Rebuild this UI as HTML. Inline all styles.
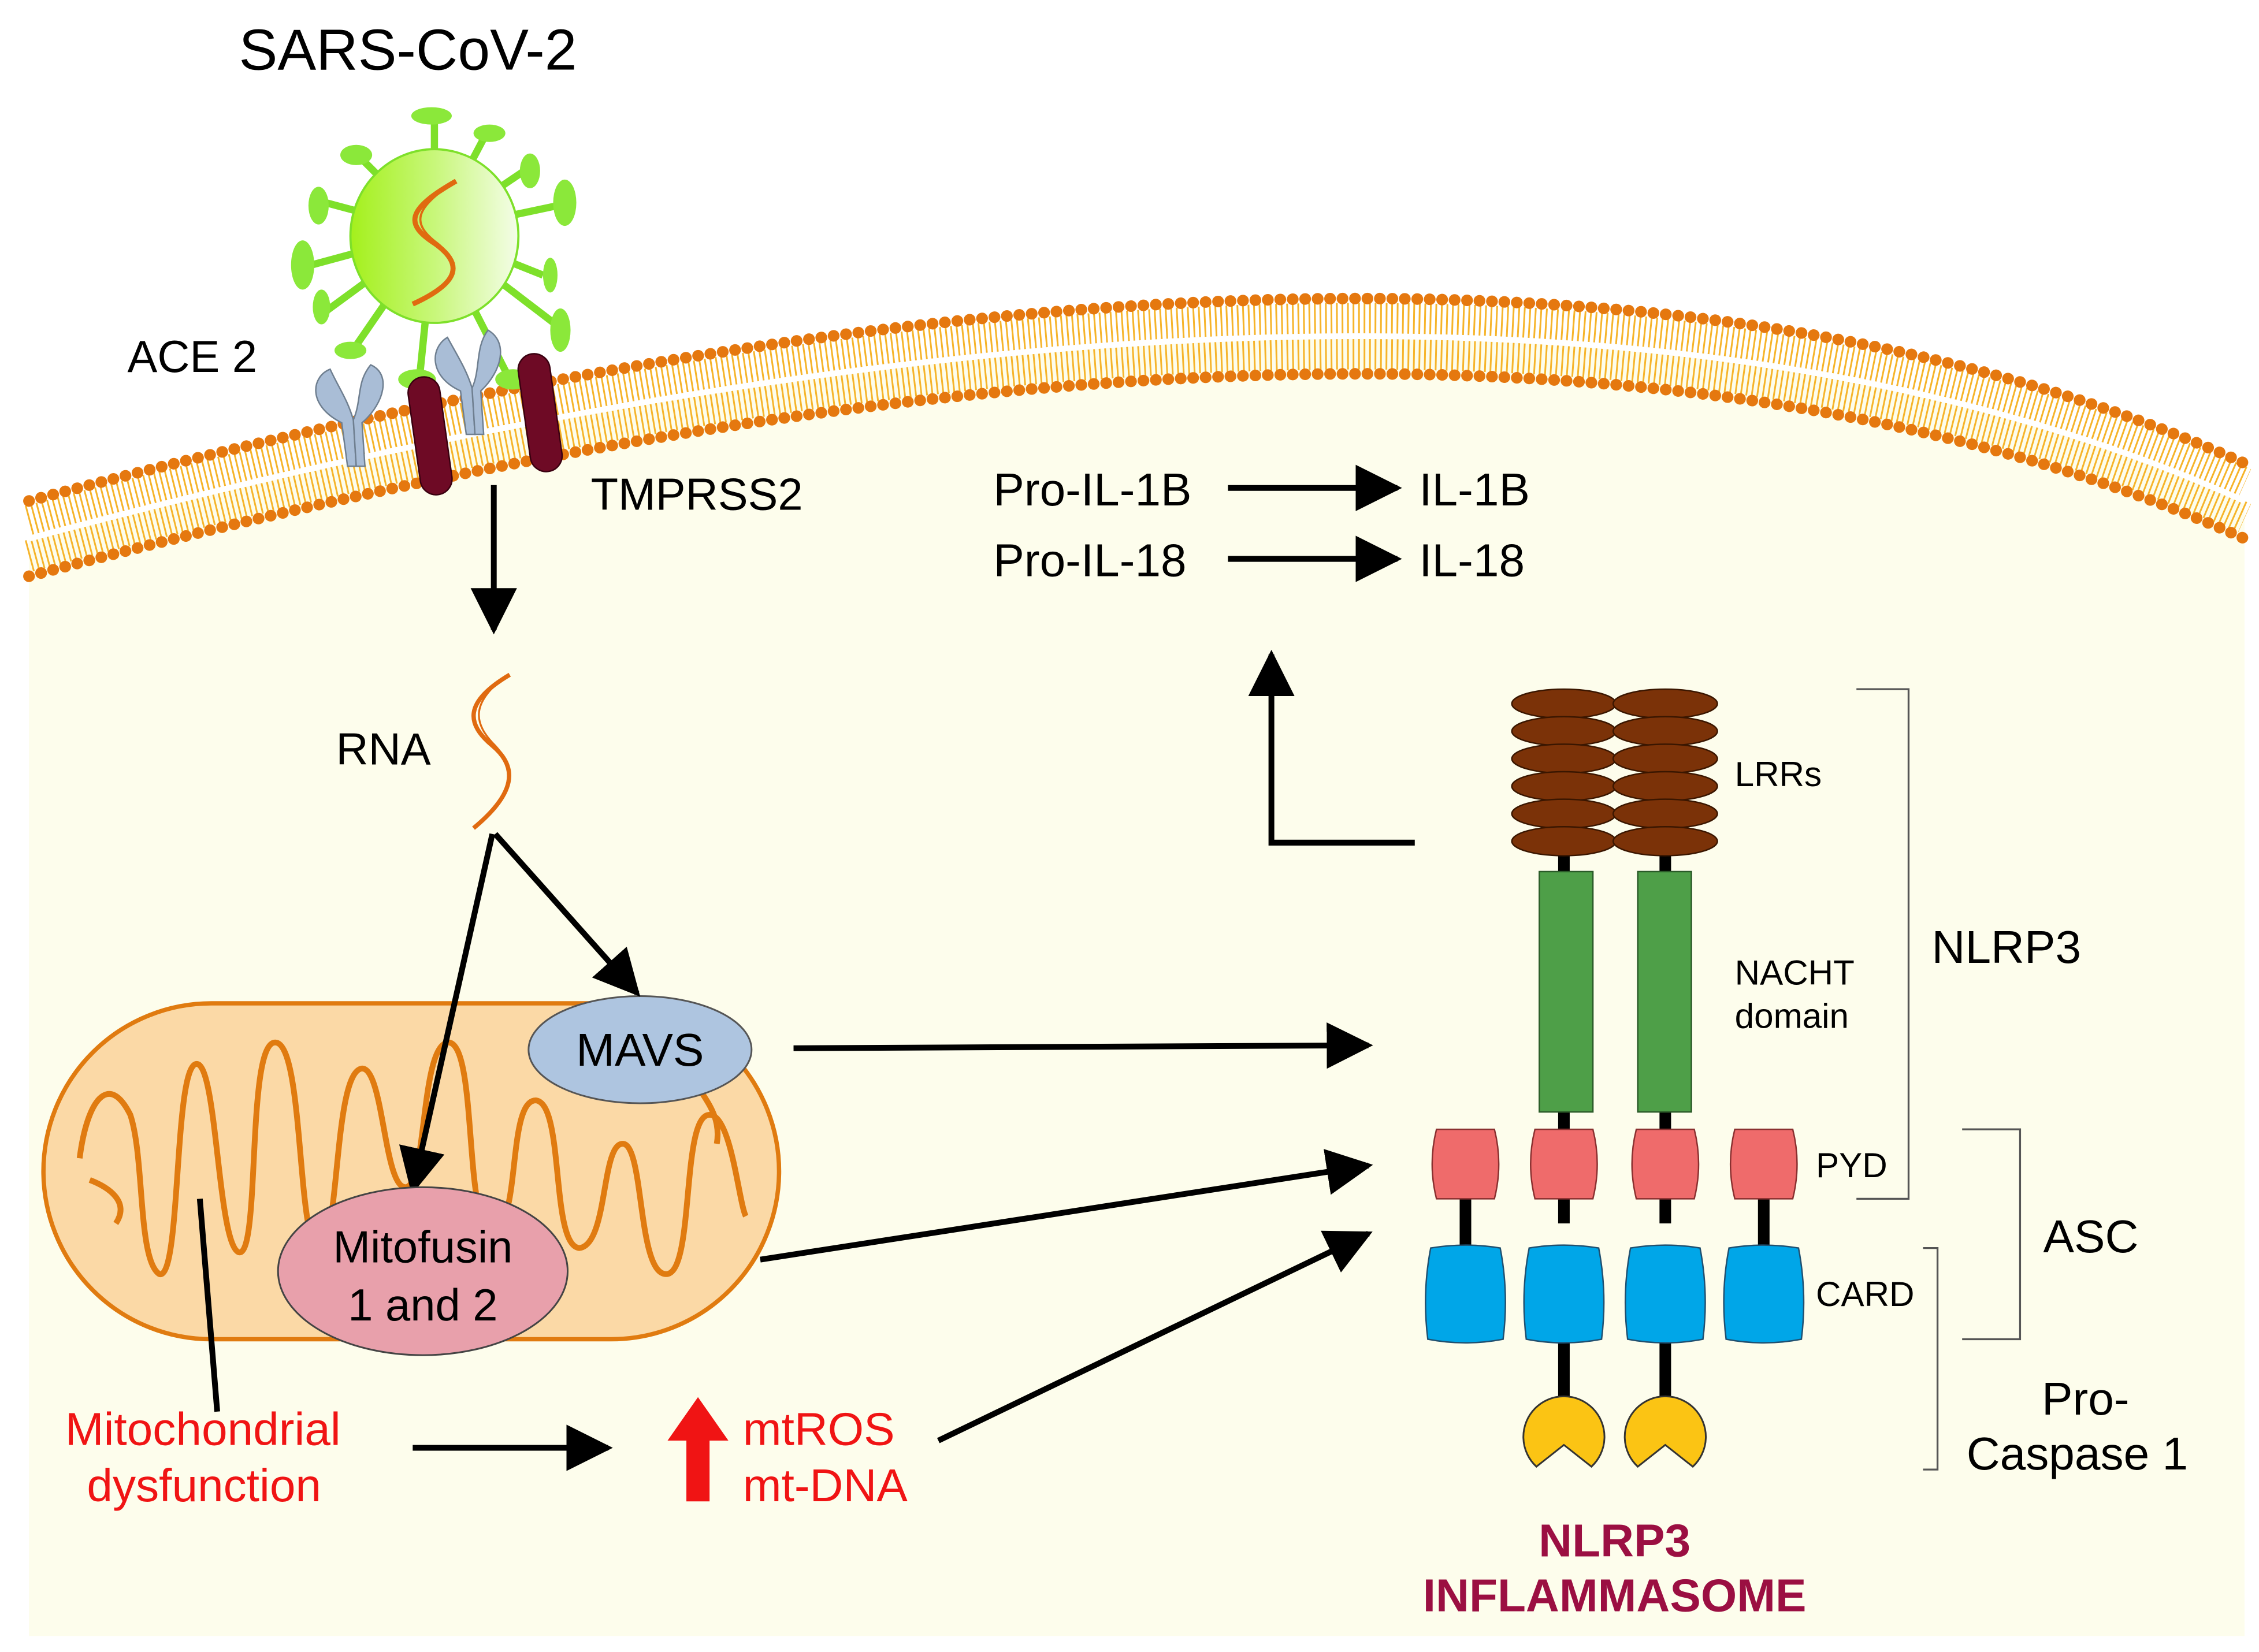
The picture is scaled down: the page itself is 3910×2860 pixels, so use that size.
<!DOCTYPE html>
<html><head><meta charset="utf-8"><style>html,body{margin:0;padding:0;background:#fff}svg{display:block}text{font-family:"Liberation Sans",sans-serif}</style></head>
<body>
<svg width="3910" height="2860" viewBox="0 0 1560 1141" xmlns="http://www.w3.org/2000/svg">
<defs>
<linearGradient id="vg" x1="0" x2="1"><stop offset="0" stop-color="#a4f01c"/><stop offset="0.5" stop-color="#c8f77a"/><stop offset="1" stop-color="#f4fde8"/></linearGradient>
<marker id="ah" viewBox="0 0 10 10" refX="9" refY="5" markerUnits="userSpaceOnUse" markerWidth="32" markerHeight="32" orient="auto"><path d="M0,0 L10,5 L0,10 Z" fill="#000"/></marker>
</defs>
<rect width="1560" height="1141" fill="#fff"/>
<path d="M20,372 Q1015,106 1550,346 L1550,1130 L20,1130 Z" fill="#fdfdec"/>
<g fill="none">
<path d="M20,360 Q1015,94 1550,334" stroke="#f6b42a" stroke-width="22" stroke-dasharray="1.2 2.6"/>
<path d="M20,384 Q1015,118 1550,358" stroke="#f6b42a" stroke-width="22" stroke-dasharray="1.2 2.6"/>
<path d="M20,372 Q1015,106 1550,346" stroke="#fff" stroke-width="4"/>
<path d="M20,346 Q1015,80 1550,320" stroke="#e5780f" stroke-width="8" stroke-dasharray="0.1 8.5" stroke-linecap="round"/>
<path d="M20,398 Q1015,132 1550,372" stroke="#e5780f" stroke-width="8" stroke-dasharray="0.1 8.5" stroke-linecap="round"/>
</g>
<g stroke="#7ee02a" stroke-width="5" fill="#8be83a">
<line x1="300" y1="160" x2="300" y2="82"/><ellipse cx="298" cy="80" rx="14" ry="6" stroke="none"/>
<line x1="300" y1="160" x2="337" y2="90"/><ellipse cx="338" cy="92" rx="11" ry="6" stroke="none"/>
<line x1="300" y1="160" x2="362" y2="118"/><ellipse cx="366" cy="118" rx="7" ry="12" stroke="none"/>
<line x1="300" y1="160" x2="385" y2="142"/><ellipse cx="390" cy="140" rx="8" ry="16" stroke="none"/>
<line x1="300" y1="160" x2="375" y2="190"/><ellipse cx="380" cy="190" rx="5" ry="12" stroke="none"/>
<line x1="300" y1="160" x2="385" y2="225"/><ellipse cx="387" cy="228" rx="7" ry="15" stroke="none"/>
<line x1="300" y1="160" x2="350" y2="258"/><ellipse cx="354" cy="262" rx="12" ry="7" stroke="none"/>
<line x1="300" y1="160" x2="290" y2="258"/><ellipse cx="288" cy="262" rx="13" ry="7" stroke="none"/>
<line x1="300" y1="160" x2="245" y2="240"/><ellipse cx="242" cy="242" rx="11" ry="6" stroke="none"/>
<line x1="300" y1="160" x2="225" y2="215"/><ellipse cx="222" cy="212" rx="6" ry="12" stroke="none"/>
<line x1="300" y1="160" x2="215" y2="183"/><ellipse cx="209" cy="183" rx="8" ry="17" stroke="none"/>
<line x1="300" y1="160" x2="225" y2="140"/><ellipse cx="220" cy="142" rx="7" ry="13" stroke="none"/>
<line x1="300" y1="160" x2="250" y2="110"/><ellipse cx="246" cy="107" rx="11" ry="7" stroke="none"/>
</g>
<ellipse cx="300" cy="163" rx="58" ry="60" fill="url(#vg)" stroke="#7ee02a" stroke-width="1.5"/>
<g fill="none" stroke="#e06a10" stroke-width="3.5">
<path d="M315,125 C280,145 280,155 300,168 C320,182 318,195 285,210"/>
<path d="M312,127 C285,145 285,155 302,168 C322,184 312,198 289,208" stroke-width="1.5"/>
</g>
<g fill="#a9bdd6" stroke="#6f7f90" stroke-width="1">
<path d="M228,255 C215,260 212,280 236,292 L240,322 L246,322 L244,290 C240,276 234,268 228,255Z"/>
<path d="M256,252 C270,258 266,278 250,292 L252,322 L246,322 L244,290 C250,276 246,264 256,252Z"/>
<path d="M309,233 C297,240 296,260 318,270 L322,300 L328,300 L326,268 C322,255 316,246 309,233Z"/>
<path d="M337,228 C351,236 347,256 332,270 L334,300 L328,300 L326,268 C332,255 328,240 337,228Z"/>
</g>
<g fill="#6e0a25" stroke="#3a0010" stroke-width="1">
<rect x="286" y="260" width="22" height="82" rx="11" transform="rotate(-8 297 301)"/>
<rect x="362" y="244" width="22" height="82" rx="11" transform="rotate(-8 373 285)"/>
</g>
<text x="165" y="48" font-size="40">SARS-CoV-2</text>
<text x="88" y="257" font-size="31">ACE 2</text>
<text x="408" y="352" font-size="31">TMPRSS2</text>
<line x1="341" y1="335" x2="341" y2="435" stroke="#000" stroke-width="4" marker-end="url(#ah)"/>
<text x="232" y="528" font-size="31">RNA</text>
<g fill="none" stroke="#e06a10" stroke-width="3">
<path d="M352,466 C320,485 322,500 340,515 C358,530 356,548 327,572"/>
<path d="M348,468 C325,486 327,500 342,515 C358,532 352,550 330,570" stroke-width="1.3"/>
</g>
<text x="686" y="349" font-size="32">Pro-IL-1B</text>
<text x="686" y="398" font-size="32">Pro-IL-18</text>
<text x="980" y="349" font-size="32">IL-1B</text>
<text x="980" y="398" font-size="32">IL-18</text>
<line x1="848" y1="337" x2="965" y2="337" stroke="#000" stroke-width="4" marker-end="url(#ah)"/>
<line x1="848" y1="386" x2="965" y2="386" stroke="#000" stroke-width="4" marker-end="url(#ah)"/>
<polyline points="977,582 878,582 878,452" fill="none" stroke="#000" stroke-width="4" marker-end="url(#ah)"/>
<rect x="30" y="693" width="508" height="232" rx="116" fill="#fbd9a6" stroke="#e07b10" stroke-width="3"/>
<path d="M55,800 C60,760 75,740 90,770 C100,800 95,870 110,880 C125,885 120,740 135,735 C150,730 150,860 165,865 C180,868 170,720 190,720 C210,720 205,860 220,862 C235,862 230,740 250,738 C265,738 265,820 280,820 C295,820 290,720 310,720 C330,722 320,850 340,850 C360,848 350,760 370,760 C390,762 380,860 400,862 C420,860 415,790 430,790 C445,790 440,880 460,880 C480,880 470,770 490,770 C505,770 510,830 515,840" fill="none" stroke="#e07b10" stroke-width="4"/>
<path d="M62,815 C75,820 90,830 80,845 M480,730 C470,750 500,760 495,790" fill="none" stroke="#e07b10" stroke-width="4"/>
<ellipse cx="442" cy="725" rx="77" ry="37" fill="#aec5e0" stroke="#555" stroke-width="1.2"/>
<text x="442" y="736" font-size="32" text-anchor="middle">MAVS</text>
<line x1="342" y1="576" x2="440" y2="686" stroke="#000" stroke-width="4" marker-end="url(#ah)"/>
<line x1="340" y1="576" x2="285" y2="822" stroke="#000" stroke-width="4" marker-end="url(#ah)"/>
<ellipse cx="292" cy="878" rx="100" ry="58" fill="#e8a0ab" stroke="#444" stroke-width="1.2"/>
<text x="292" y="872" font-size="31" text-anchor="middle">Mitofusin</text>
<text x="292" y="912" font-size="31" text-anchor="middle">1 and 2</text>
<line x1="138" y1="828" x2="150" y2="975" stroke="#000" stroke-width="4"/>
<text x="45" y="998" font-size="32" fill="#f01414">Mitochondrial</text>
<text x="60" y="1037" font-size="32" fill="#f01414">dysfunction</text>
<line x1="285" y1="1000" x2="420" y2="1000" stroke="#000" stroke-width="4" marker-end="url(#ah)"/>
<path d="M474,1037 L490,1037 L490,995 L503,995 L482,965 L461,995 L474,995 Z" fill="#f01414"/>
<text x="513" y="998" font-size="32" fill="#f01414">mtROS</text>
<text x="513" y="1037" font-size="32" fill="#f01414">mt-DNA</text>
<line x1="548" y1="724" x2="945" y2="722" stroke="#000" stroke-width="4" marker-end="url(#ah)"/>
<line x1="525" y1="870" x2="945" y2="805" stroke="#000" stroke-width="4" marker-end="url(#ah)"/>
<line x1="648" y1="995" x2="945" y2="852" stroke="#000" stroke-width="4" marker-end="url(#ah)"/>
<g stroke="#000" stroke-width="8">
<line x1="1080" y1="580" x2="1080" y2="845"/><line x1="1150" y1="580" x2="1150" y2="845"/>
<line x1="1012" y1="820" x2="1012" y2="870"/><line x1="1218" y1="820" x2="1218" y2="870"/>
<line x1="1080" y1="915" x2="1080" y2="975"/><line x1="1150" y1="915" x2="1150" y2="975"/>
</g>
<g fill="#7b3208" stroke="#3a1600" stroke-width="1">
<ellipse cx="1080" cy="486" rx="36" ry="10"/><ellipse cx="1150" cy="486" rx="36" ry="10"/>
<ellipse cx="1080" cy="505" rx="36" ry="10"/><ellipse cx="1150" cy="505" rx="36" ry="10"/>
<ellipse cx="1080" cy="524" rx="36" ry="10"/><ellipse cx="1150" cy="524" rx="36" ry="10"/>
<ellipse cx="1080" cy="543" rx="36" ry="10"/><ellipse cx="1150" cy="543" rx="36" ry="10"/>
<ellipse cx="1080" cy="562" rx="36" ry="10"/><ellipse cx="1150" cy="562" rx="36" ry="10"/>
<ellipse cx="1080" cy="581" rx="36" ry="10"/><ellipse cx="1150" cy="581" rx="36" ry="10"/>
</g>
<g fill="#4e9f48" stroke="#2a5a28" stroke-width="1">
<rect x="1063" y="602" width="37" height="166"/><rect x="1131" y="602" width="37" height="166"/>
</g>
<g fill="#ef6b6b" stroke="#8a3030" stroke-width="1">
<path d="M992,780 H1032 Q1038,804 1032,828 H992 Q986,804 992,780Z"/>
<path d="M1060,780 H1100 Q1106,804 1100,828 H1060 Q1054,804 1060,780Z"/>
<path d="M1130,780 H1170 Q1176,804 1170,828 H1130 Q1124,804 1130,780Z"/>
<path d="M1198,780 H1238 Q1244,804 1238,828 H1198 Q1192,804 1198,780Z"/>
</g>
<g fill="#00a6e8" stroke="#205070" stroke-width="1">
<path d="M988,862 Q1012,858 1036,862 Q1042,893 1038,925 Q1012,930 986,925 Q982,893 988,862Z"/>
<path d="M1056,862 Q1080,858 1104,862 Q1110,893 1106,925 Q1080,930 1054,925 Q1050,893 1056,862Z"/>
<path d="M1126,862 Q1150,858 1174,862 Q1180,893 1176,925 Q1150,930 1124,925 Q1120,893 1126,862Z"/>
<path d="M1194,862 Q1218,858 1242,862 Q1248,893 1244,925 Q1218,930 1192,925 Q1188,893 1194,862Z"/>
</g>
<g fill="#fbc414" stroke="#333" stroke-width="1.2">
<path d="M1080,998 L1061,1013 A28,28 0 1,1 1099,1013 Z"/>
<path d="M1150,998 L1131,1013 A28,28 0 1,1 1169,1013 Z"/>
</g>
<text x="1198" y="543" font-size="24">LRRs</text>
<text x="1198" y="680" font-size="24">NACHT</text>
<text x="1198" y="710" font-size="24">domain</text>
<text x="1254" y="813" font-size="24">PYD</text>
<text x="1254" y="902" font-size="24">CARD</text>
<g fill="none" stroke="#555" stroke-width="1.3">
<polyline points="1282,476 1318,476 1318,828 1282,828"/>
<polyline points="1355,780 1395,780 1395,925 1355,925"/>
<polyline points="1328,862 1338,862 1338,1015 1328,1015"/>
</g>
<text x="1334" y="665" font-size="32">NLRP3</text>
<text x="1411" y="865" font-size="32">ASC</text>
<text x="1410" y="977" font-size="32">Pro-</text>
<text x="1358" y="1015" font-size="32">Caspase 1</text>
<text x="1115" y="1075" font-size="32" font-weight="bold" fill="#9b0f42" text-anchor="middle">NLRP3</text>
<text x="1115" y="1113" font-size="32" font-weight="bold" fill="#9b0f42" text-anchor="middle">INFLAMMASOME</text>
</svg>
</body></html>
